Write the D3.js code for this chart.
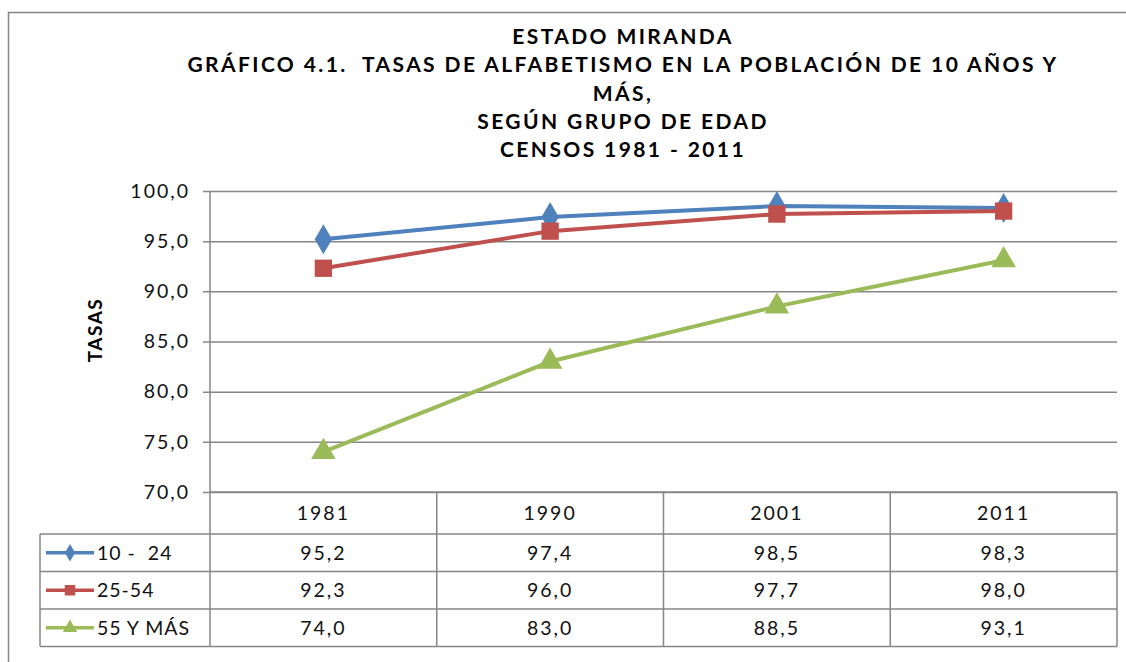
<!DOCTYPE html>
<html>
<head>
<meta charset="utf-8">
<script src="https://cdn.jsdelivr.net/npm/d3@7"></script>
<style>
  body { margin: 0; background: #fff; }
  svg { display: block; font-family: "Lato", "Noto Sans", sans-serif; }
  text { white-space: pre; }
</style>
</head>
<body>
<svg id="chart" width="1126" height="662"></svg>
<script>
const years = ["1981", "1990", "2001", "2011"];
const seriesNames = ["10 -  24", "25-54", "55 Y MÁS"];
const grp1024 = [95.2, 97.4, 98.5, 98.3];
const grp2554 = [92.3, 96.0, 97.7, 98.0];
const grp55 = [74.0, 83.0, 88.5, 93.1];
const yTicks = [70, 75, 80, 85, 90, 95, 100];
const titleLines = [
  "ESTADO MIRANDA",
  "GRÁFICO 4.1.  TASAS DE ALFABETISMO EN LA POBLACIÓN DE 10 AÑOS Y",
  "MÁS,",
  "SEGÚN GRUPO DE EDAD",
  "CENSOS 1981 - 2011"
];

const series = [
  { name: seriesNames[0], values: grp1024, color: "#4F81BD", symbol: d3.symbolDiamond },
  { name: seriesNames[1], values: grp2554, color: "#C0504D", symbol: d3.symbolSquare },
  { name: seriesNames[2], values: grp55, color: "#9BBB59", symbol: d3.symbolTriangle }
];

const es = d3.formatLocale({ decimal: ",", thousands: ".", grouping: [3], currency: ["", ""] });
const fmt = es.format(".1f");

const svg = d3.select("#chart");
const plot = { left: 210, right: 1117, top: 191, bottom: 492 };
const gridColor = "#868686";
const numSize = 19.5;
const numSpacing = 2;

// outer frame
svg.append("rect")
  .attr("x", 8.5).attr("y", 12.5)
  .attr("width", 1200).attr("height", 700)
  .attr("fill", "none").attr("stroke", gridColor).attr("stroke-width", 1.5);

// title
svg.append("g").selectAll("text")
  .data(titleLines)
  .join("text")
  .attr("x", 623)
  .attr("y", (d, i) => 44 + i * 28.3)
  .attr("text-anchor", "middle")
  .attr("font-size", 21)
  .attr("font-weight", "bold")
  .attr("letter-spacing", 2.4)
  .attr("fill", "#000")
  .text(d => d);

const x = d3.scaleBand().domain(years).range([plot.left, plot.right]);
const y = d3.scaleLinear().domain([70, 100]).range([plot.bottom, plot.top]);

// y axis with gridlines
const yAxis = d3.axisLeft(y)
  .tickValues(yTicks)
  .tickSize(-(plot.right - plot.left))
  .tickPadding(20)
  .tickFormat(fmt);

const yAxisGroup = svg.append("g")
  .attr("transform", `translate(${plot.left},0)`)
  .call(yAxis);
yAxisGroup.select(".domain").remove();
yAxisGroup.selectAll(".tick line")
  .attr("x1", -7)
  .attr("stroke", gridColor).attr("stroke-width", 1.5);
yAxisGroup.selectAll(".tick text")
  .attr("font-size", numSize)
  .attr("letter-spacing", numSpacing)
  .attr("font-family", "Lato, 'Noto Sans', sans-serif")
  .attr("fill", "#111");

// vertical axis line
svg.append("line")
  .attr("x1", plot.left).attr("x2", plot.left)
  .attr("y1", plot.top).attr("y2", plot.bottom)
  .attr("stroke", gridColor).attr("stroke-width", 1.5);

// y title
svg.append("text")
  .attr("transform", `translate(102,330) rotate(-90)`)
  .attr("text-anchor", "middle")
  .attr("font-size", 19)
  .attr("font-weight", "bold")
  .attr("letter-spacing", 1.5)
  .text("TASAS");

// lines and markers
const line = d3.line()
  .x((d, i) => x(years[i]) + x.bandwidth() / 2)
  .y(d => y(d));

series.forEach(s => {
  svg.append("path")
    .datum(s.values)
    .attr("d", line)
    .attr("fill", "none")
    .attr("stroke", s.color)
    .attr("stroke-width", 4)
    .attr("stroke-linejoin", "round");
  svg.append("g").selectAll("path")
    .data(s.values)
    .join("path")
    .attr("transform", (d, i) => `translate(${x(years[i]) + x.bandwidth() / 2},${y(d)})`)
    .attr("d", d3.symbol().type(s.symbol).size(s.symbol === d3.symbolSquare ? 300 : 260))
    .attr("fill", s.color);
});

// data table
const rowTop = plot.bottom;
const headerH = 42;
const rowH = 37.5;
const legendLeft = 40;
const tableBottom = rowTop + headerH + rowH * series.length;
const table = svg.append("g");

const tline = (x1, y1, x2, y2) => table.append("line")
  .attr("x1", x1).attr("y1", y1).attr("x2", x2).attr("y2", y2)
  .attr("stroke", gridColor).attr("stroke-width", 1.5);

// horizontal lines
tline(plot.left, rowTop, plot.right, rowTop);
series.forEach((s, i) => tline(legendLeft, rowTop + headerH + i * rowH, plot.right, rowTop + headerH + i * rowH));
tline(legendLeft, tableBottom, plot.right, tableBottom);
// vertical lines
tline(legendLeft, rowTop + headerH, legendLeft, tableBottom);
years.forEach(yr => tline(x(yr), rowTop, x(yr), tableBottom));
tline(plot.right, rowTop, plot.right, tableBottom);

// header years
table.selectAll(".yr")
  .data(years)
  .join("text")
  .attr("x", d => x(d) + x.bandwidth() / 2)
  .attr("y", rowTop + headerH / 2 + 7)
  .attr("text-anchor", "middle")
  .attr("font-size", numSize)
  .attr("letter-spacing", numSpacing)
  .attr("fill", "#111")
  .text(d => d);

series.forEach((s, i) => {
  const cy = rowTop + headerH + i * rowH + rowH / 2;
  table.append("line")
    .attr("x1", 46).attr("x2", 94).attr("y1", cy).attr("y2", cy)
    .attr("stroke", s.color).attr("stroke-width", 3.5);
  table.append("path")
    .attr("transform", `translate(70,${cy})`)
    .attr("d", d3.symbol().type(s.symbol).size(s.symbol === d3.symbolSquare ? 110 : 90))
    .attr("fill", s.color);
  table.append("text")
    .attr("x", 97).attr("y", cy + 7)
    .attr("font-size", numSize)
    .attr("letter-spacing", 1)
    .attr("fill", "#111")
    .text(s.name);
  table.append("g").selectAll("text")
    .data(s.values)
    .join("text")
    .attr("x", (d, j) => x(years[j]) + x.bandwidth() / 2)
    .attr("y", cy + 7)
    .attr("text-anchor", "middle")
    .attr("font-size", numSize)
    .attr("letter-spacing", numSpacing)
    .attr("fill", "#111")
    .text(d => fmt(d));
});
</script>
</body>
</html>
